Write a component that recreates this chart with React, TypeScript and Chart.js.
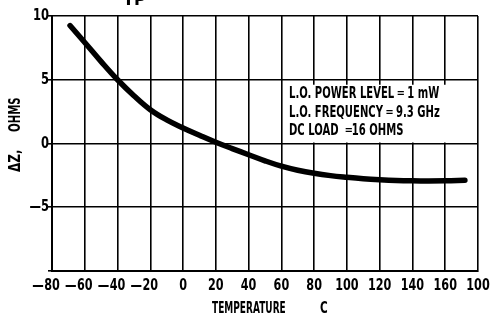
import React, { useEffect, useRef } from "react";
import { Chart, registerables } from "chart.js";

Chart.register(...registerables);

const temperatures = [-69, -60, -50, -40, -30, -20, -10, 0, 10, 20, 30, 40, 50, 60, 70, 80, 90, 100, 110, 120, 130, 140, 150, 160, 172];
const deltaZ = [9.25, 7.92, 6.42, 5.0, 3.75, 2.65, 1.85, 1.22, 0.65, 0.1, -0.4, -0.88, -1.36, -1.78, -2.1, -2.34, -2.52, -2.65, -2.76, -2.84, -2.9, -2.93, -2.94, -2.93, -2.89];

const xTickValues = [-80, -60, -40, -20, 0, 20, 40, 60, 80, 100, 120, 140, 160, 180];
const xTickLabels = ["80", "60", "40", "20", "0", "20", "40", "60", "80", "100", "120", "140", "160", "100"];
const xTickNegative = [true, true, true, true, false, false, false, false, false, false, false, false, false, false];
const yTickValues = [-10, -5, 0, 5, 10];
const yTickLabels = ["", "—5", "0", "5", "10"];

const legendLines = ["L.O. POWER LEVEL ═ 1 mW", "L.O. FREQUENCY ═ 9.3 GHz", "DC LOAD  ═16 OHMS"];
const xTitleA = "TEMPERATURE";
const xTitleB = "C";
const yTitleA = "ΔZ,";
const yTitleB = "OHMS";
const topText = "TP";

const FONT = "'DejaVu Sans', sans-serif";

function narrow(ctx: any, text: string, x: number, y: number, size: number, sx: number, align: "left" | "right" | "center") {
  ctx.save();
  ctx.font = `bold ${size}px ${FONT}`;
  ctx.textBaseline = "middle";
  ctx.textAlign = "left";
  const w = ctx.measureText(text).width * sx;
  let left = x;
  if (align === "right") left = x - w;
  else if (align === "center") left = x - w / 2;
  ctx.translate(left, y);
  ctx.scale(sx, 1);
  ctx.fillText(text, 0, 0);
  ctx.restore();
  return w;
}

const annotations = {
  id: "annotations",
  afterDraw(chart: any) {
    const ctx = chart.ctx;
    const xs = chart.scales.x;
    const ys = chart.scales.y;
    ctx.save();
    ctx.fillStyle = "#000";
    // x tick labels
    xTickValues.forEach((v, i) => {
      const px = xs.getPixelForValue(v);
      const w = narrow(ctx, xTickLabels[i], px, 286, 16, 0.7, "center");
      if (xTickNegative[i]) narrow(ctx, "—", px - w / 2 - 0.5, 286, 16, 0.72, "right");
    });
    // y tick labels
    yTickValues.forEach((v, i) => {
      if (yTickLabels[i]) narrow(ctx, yTickLabels[i], 49, ys.getPixelForValue(v), 16, 0.72, "right");
    });
    // legend box
    const bx = xs.getPixelForValue(60) + 2;
    const bx2 = xs.getPixelForValue(160) + 1;
    const by = ys.getPixelForValue(5) + 5;
    const by2 = ys.getPixelForValue(0) - 1;
    ctx.fillStyle = "#fff";
    ctx.fillRect(bx, by, bx2 - bx, by2 - by);
    ctx.fillStyle = "#000";
    legendLines.forEach((t, i) => {
      narrow(ctx, t, 289, 94.5 + i * 18.3, 15, 0.67, "left");
    });
    // x title
    narrow(ctx, xTitleA, 212, 309, 15, 0.6, "left");
    narrow(ctx, xTitleB, 320, 309, 15, 0.7, "left");
    // y title rotated
    ctx.save();
    ctx.translate(16, 0);
    ctx.rotate(-Math.PI / 2);
    narrow(ctx, yTitleA, -172, 0, 15, 0.8, "left");
    narrow(ctx, yTitleB, -132, 0, 15, 0.68, "left");
    ctx.restore();
    // clipped top text
    ctx.font = `bold 16px ${FONT}`;
    ctx.textBaseline = "alphabetic";
    ctx.textAlign = "left";
    ctx.fillText(topText, 123, 5);
    ctx.restore();
  },
};

export default function App() {
  const ref = useRef<HTMLCanvasElement>(null);
  useEffect(() => {
    document.body.style.margin = "0";
    const chart = new Chart(ref.current!, {
      type: "line",
      data: {
        datasets: [
          {
            data: temperatures.map((t, i) => ({ x: t, y: deltaZ[i] })),
            borderColor: "#000",
            borderWidth: 5.5,
            pointRadius: 0,
            tension: 0.4,
            borderCapStyle: "round",
            fill: false,
          },
        ],
      },
      plugins: [annotations],
      options: {
        animation: false,
        responsive: false,
        devicePixelRatio: 1,
        layout: { padding: { top: 16, right: 12, left: 0, bottom: 0 } },
        plugins: { legend: { display: false }, tooltip: { enabled: false } },
        scales: {
          x: {
            type: "linear",
            min: -80,
            max: 180,
            afterFit: (s: any) => { s.height = 45; },
            afterBuildTicks: (s: any) => {
              s.ticks = xTickValues.map((v) => ({ value: v }));
            },
            border: { color: "#000", width: 2 },
            grid: { color: "#000", lineWidth: 1.6, tickLength: 0, drawTicks: false },
            ticks: { display: false },
          },
          y: {
            type: "linear",
            min: -10,
            max: 10,
            afterFit: (s: any) => { s.width = 52; },
            afterBuildTicks: (s: any) => {
              s.ticks = yTickValues.map((v) => ({ value: v }));
            },
            border: { color: "#000", width: 2 },
            grid: { color: "#000", lineWidth: 1.6, tickLength: 4 },
            ticks: { display: false },
          },
        },
      } as any,
    });
    return () => chart.destroy();
  }, []);
  return (
    <div style={{ position: "fixed", left: 0, top: 0, width: 490, height: 316, background: "#fff" }}>
      <canvas ref={ref} width={490} height={316} style={{ width: 490, height: 316 }} />
    </div>
  );
}
